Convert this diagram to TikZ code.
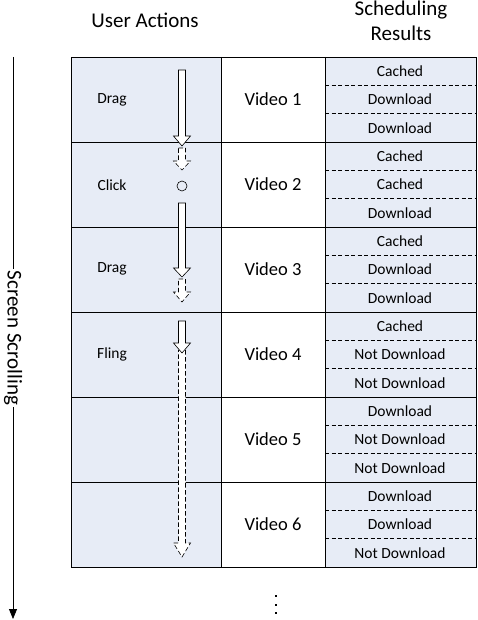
\documentclass[tikz,border=0pt]{standalone}
\usepackage{fontspec}
\setmainfont{Carlito}
\usetikzlibrary{arrows.meta}
\definecolor{cellblue}{RGB}{231,236,246}
\tikzset{
  head/.style={font=\fontsize{21}{23}\selectfont, inner sep=0pt},
  vid/.style={font=\fontsize{18.5}{20}\selectfont, inner sep=0pt},
  res/.style={font=\fontsize{15.5}{17}\selectfont, inner sep=0pt},
  act/.style={font=\fontsize{15.5}{17}\selectfont, inner sep=0pt},
  grid/.style={draw=black, line width=0.8pt},
  sub/.style={draw=black, line width=0.6pt, dash pattern=on 4pt off 2.5pt},
  blk/.style={draw=black, line width=0.6pt, fill=white},
  blkd/.style={draw=black, line width=0.6pt, fill=white, dash pattern=on 4.5pt off 2.5pt},
}
% hollow block arrow: x, top, head start, tip
\newcommand{\blockarrow}[5][blk]{%
  \draw[#1] (#2-3.5,#3) -- (#2+3.5,#3) -- (#2+3.5,#4) -- (#2+8.5,#4) -- (#2,#5)
    -- (#2-8.5,#4) -- (#2-3.5,#4) -- cycle;}
\begin{document}
\begin{tikzpicture}[x=1pt,y=-1pt]
\useasboundingbox (0,0) rectangle (477,620);
% backgrounds
\fill[cellblue] (71,57) rectangle (221,567);
\fill[cellblue] (325,57) rectangle (476,567);
% sub-row dashed lines
\foreach \r in {0,...,5}{
  \pgfmathsetmacro{\ya}{57+85*\r+85/3}
  \pgfmathsetmacro{\yb}{57+85*\r+170/3}
  \draw[sub] (325,\ya) -- (476,\ya);
  \draw[sub] (325,\yb) -- (476,\yb);
}
% grid
\draw[grid] (71,57) rectangle (476,567);
\draw[grid] (221,57) -- (221,567);
\draw[grid] (325,57) -- (325,567);
\foreach \r in {1,...,5}{
  \draw[grid] (71,57+85*\r) -- (476,57+85*\r);
}
% headers
\node[head] (hua) at (145,20) {User Actions};
\node[head] (hs) at (401,10.5) {Scheduling};
\node[head] (hr) at (401,33) {Results};
% actions
\node[act] (a1) at (112,100) {Drag};
\node[act] (a2) at (112,185) {Click};
\node[act] (a3) at (112,269) {Drag};
\node[act] (a4) at (112,354) {Fling};
% videos
\foreach \i in {1,...,6}{
  \node[vid] (v\i) at (273,57+85*\i-42.5) {Video \i};
}
% results
\newcommand{\resrow}[4]{%
  \node[res] (r#1a) at (400,57+85*#1-85+14.2) {#2};
  \node[res] (r#1b) at (400,57+85*#1-85+42.5) {#3};
  \node[res] (r#1c) at (400,57+85*#1-85+70.8) {#4};}
\resrow{1}{Cached}{Download}{Download}
\resrow{2}{Cached}{Cached}{Download}
\resrow{3}{Cached}{Download}{Download}
\resrow{4}{Cached}{Not Download}{Not Download}
\resrow{5}{Download}{Not Download}{Not Download}
\resrow{6}{Download}{Download}{Not Download}
% block arrows
\blockarrow{182}{70}{136}{146}
\blockarrow[blkd]{182}{148}{161}{170}
\node[draw=black, line width=0.6pt, circle, minimum size=10pt, inner sep=0pt] (clk) at (182,186) {};
\blockarrow{182}{203}{268}{277}
\blockarrow[blkd]{182}{279}{292}{302}
\blockarrow[blkd]{182}{350}{543}{557}
\blockarrow{182}{321}{343}{353}
% screen scrolling
\node[head, rotate=-90, inner sep=2pt] (ss) at (13,338) {Screen Scrolling};
\coordinate (st) at (13,57);
\coordinate (sb) at (13,619);
\draw[line width=0.8pt] (st) -- (ss.west);
\draw[line width=0.8pt, -{Triangle[width=8pt,length=10pt]}] (ss.east) -- (sb);
% dots
\foreach \y in {596,604.5,613}{
  \fill (275,\y-1) rectangle (277,\y+1);
}
\end{tikzpicture}
\end{document}
